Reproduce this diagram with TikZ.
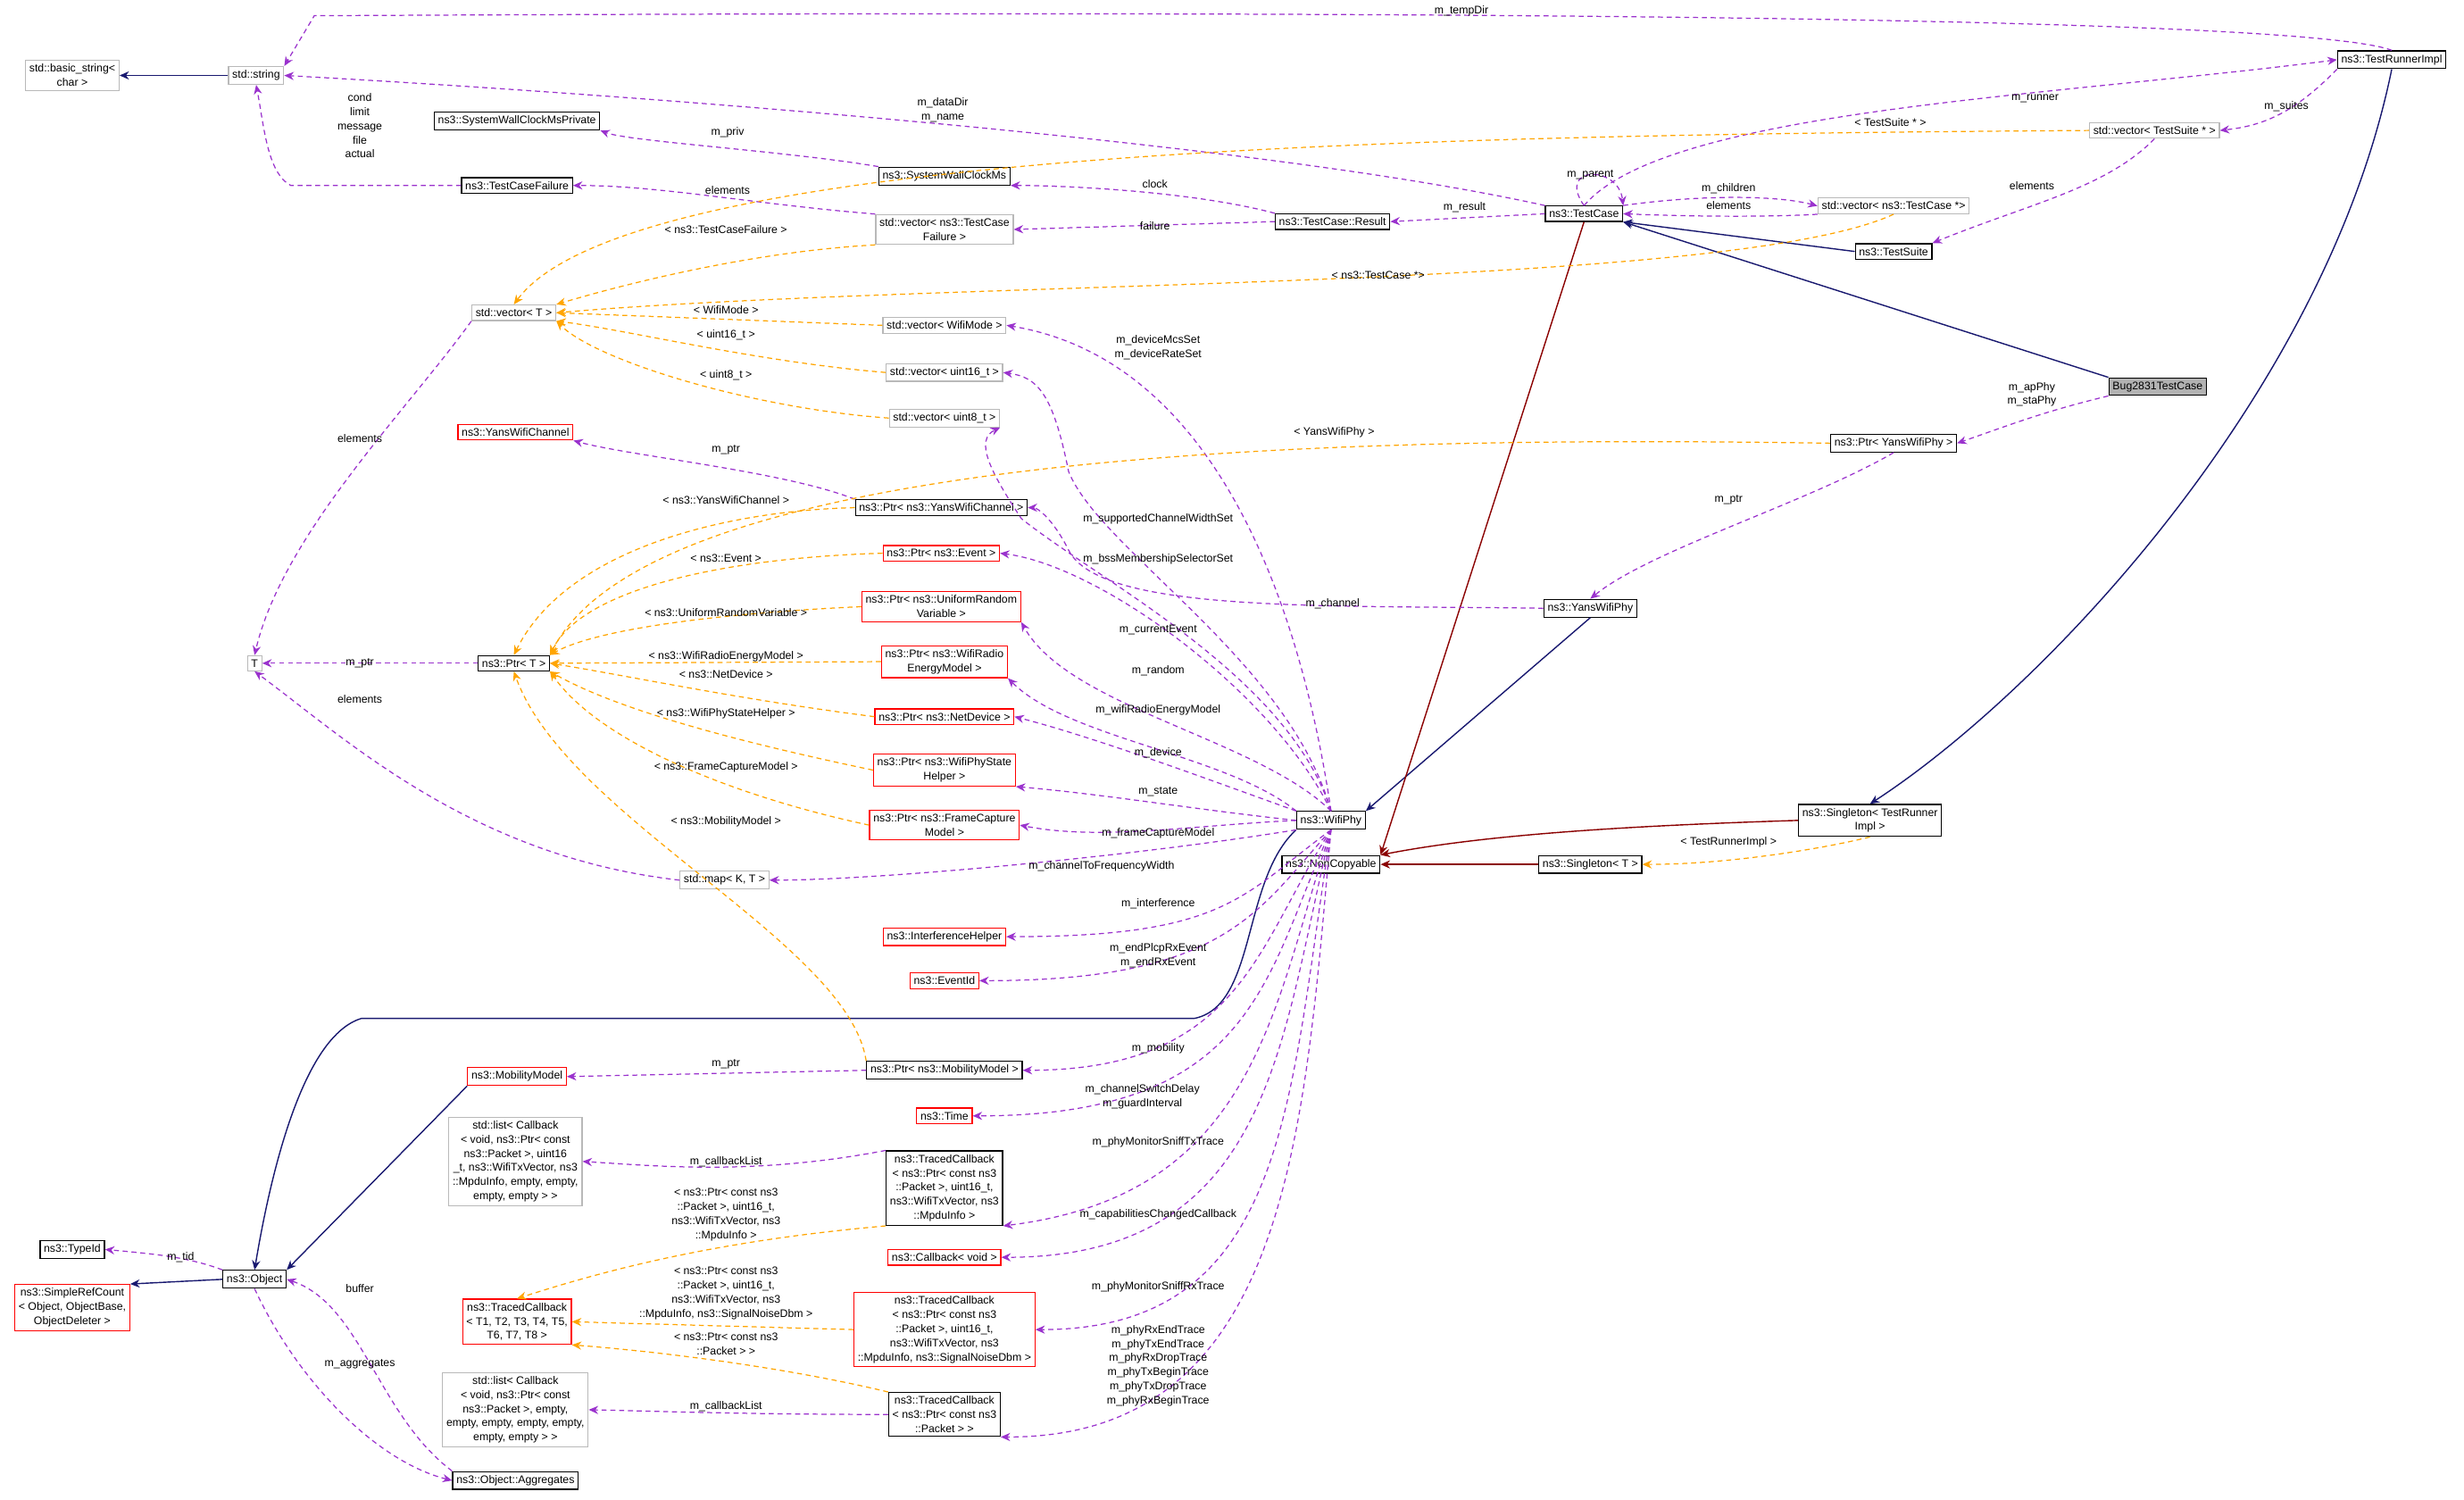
\documentclass[tikz,border=0pt]{standalone}
\usepackage{fontspec}
\setmainfont{Liberation Sans}
\usetikzlibrary{arrows.meta,positioning}
\definecolor{navy}{RGB}{25,25,112}
\definecolor{memc}{RGB}{154,50,205}
\definecolor{tmplc}{RGB}{255,165,0}
\definecolor{ncred}{RGB}{139,0,0}
\tikzset{
  box/.style={draw,line width=0.35pt,inner sep=1.2pt,align=center,font=\fontsize{3.5}{4.5}\selectfont},
  cls/.style={box,draw=black},
  redc/.style={box,draw=red},
  grayc/.style={box,draw=gray!55},
  lbl/.style={inner sep=0pt,align=center,font=\fontsize{3.5}{4.5}\selectfont},
  inh/.style={draw=navy,line width=0.4pt,-{Stealth[length=3pt,width=2.6pt]}},
  ncl/.style={draw=ncred,line width=0.4pt,-{Stealth[length=3pt,width=2.6pt]}},
  mem/.style={draw=memc,line width=0.35pt,dash pattern=on 1.6pt off 1.2pt,-{Stealth[length=3pt,width=2.6pt]}},
  tmpl/.style={draw=tmplc,line width=0.35pt,dash pattern=on 1.6pt off 1.2pt,-{Stealth[length=3pt,width=2.6pt]}},
}
\begin{document}
\begin{tikzpicture}[x=0.5pt,y=-0.5pt]
\useasboundingbox[fill=white] (0,0) rectangle (1568,954);

% Classes
\node[grayc] (bstring) at (46,48) {std::basic\_string\textless\\ char \textgreater};
\node[grayc] (string) at (163,48) {std::string};
\node[cls] (runnerimpl) at (1522,38) {ns3::TestRunnerImpl};
\node[cls] (swcpriv) at (329,77) {ns3::SystemWallClockMsPrivate};
\node[cls] (swc) at (601,112) {ns3::SystemWallClockMs};
\node[cls] (tcfail) at (329,118) {ns3::TestCaseFailure};
\node[grayc] (vtcfail) at (601,146) {std::vector\textless{} ns3::TestCase\\ Failure \textgreater};
\node[cls] (result) at (848,141) {ns3::TestCase::Result};
\node[cls] (testcase) at (1008,136) {ns3::TestCase};
\node[grayc] (vtcase) at (1205,131) {std::vector\textless{} ns3::TestCase *\textgreater};
\node[grayc] (vtsuite) at (1371,83) {std::vector\textless{} TestSuite * \textgreater};
\node[cls] (tsuite) at (1205,160) {ns3::TestSuite};
\node[cls,fill=gray!60] (bug) at (1373,246) {Bug2831TestCase};
\node[grayc] (vT) at (327,199) {std::vector\textless{} T \textgreater};
\node[grayc] (vwmode) at (601,207) {std::vector\textless{} WifiMode \textgreater};
\node[grayc] (vu16) at (601,237) {std::vector\textless{} uint16\_t \textgreater};
\node[grayc] (vu8) at (601,266) {std::vector\textless{} uint8\_t \textgreater};
\node[redc] (ywchan) at (328,275) {ns3::YansWifiChannel};
\node[cls] (pywphy) at (1205,282) {ns3::Ptr\textless{} YansWifiPhy \textgreater};
\node[cls] (pywchan) at (599,323) {ns3::Ptr\textless{} ns3::YansWifiChannel \textgreater};
\node[redc] (pevent) at (599,352) {ns3::Ptr\textless{} ns3::Event \textgreater};
\node[redc] (purv) at (599,386) {ns3::Ptr\textless{} ns3::UniformRandom\\ Variable \textgreater};
\node[cls] (ywphy) at (1012,387) {ns3::YansWifiPhy};
\node[grayc] (T) at (162,422) {T};
\node[cls] (pT) at (327,422) {ns3::Ptr\textless{} T \textgreater};
\node[redc] (pwrem) at (601,421) {ns3::Ptr\textless{} ns3::WifiRadio\\ EnergyModel \textgreater};
\node[redc] (pnetdev) at (601,456) {ns3::Ptr\textless{} ns3::NetDevice \textgreater};
\node[redc] (pwpsh) at (601,490) {ns3::Ptr\textless{} ns3::WifiPhyState\\ Helper \textgreater};
\node[redc] (pfcm) at (601,525) {ns3::Ptr\textless{} ns3::FrameCapture\\ Model \textgreater};
\node[cls] (wifiphy) at (847,522) {ns3::WifiPhy};
\node[cls] (sgltri) at (1190,522) {ns3::Singleton\textless{} TestRunner\\ Impl \textgreater};
\node[cls] (noncopy) at (847,550) {ns3::NonCopyable};
\node[cls] (sglT) at (1012,550) {ns3::Singleton\textless{} T \textgreater};
\node[grayc] (mapKT) at (461,560) {std::map\textless{} K, T \textgreater};
\node[redc] (ihelper) at (601,596) {ns3::InterferenceHelper};
\node[redc] (eventid) at (601,624) {ns3::EventId};
\node[redc] (mobmodel) at (329,685) {ns3::MobilityModel};
\node[cls] (pmobmodel) at (601,681) {ns3::Ptr\textless{} ns3::MobilityModel \textgreater};
\node[redc] (time) at (601,710) {ns3::Time};
\node[grayc] (cblistA) at (328,739) {std::list\textless{} Callback\\ \textless{} void, ns3::Ptr\textless{} const\\ ns3::Packet \textgreater, uint16\\ \_t, ns3::WifiTxVector, ns3\\ ::MpduInfo, empty, empty,\\ empty, empty \textgreater{} \textgreater};
\node[cls] (tcbA) at (601,756) {ns3::TracedCallback\\ \textless{} ns3::Ptr\textless{} const ns3\\ ::Packet \textgreater, uint16\_t,\\ ns3::WifiTxVector, ns3\\ ::MpduInfo \textgreater};
\node[cls] (typeid) at (46,795) {ns3::TypeId};
\node[cls] (object) at (162,814) {ns3::Object};
\node[redc] (srefcnt) at (46,832) {ns3::SimpleRefCount\\ \textless{} Object, ObjectBase,\\ ObjectDeleter \textgreater};
\node[redc] (cbvoid) at (601,800) {ns3::Callback\textless{} void \textgreater};
\node[redc] (tcbT) at (329,841) {ns3::TracedCallback\\ \textless{} T1, T2, T3, T4, T5,\\ T6, T7, T8 \textgreater};
\node[redc] (tcbB) at (601,846) {ns3::TracedCallback\\ \textless{} ns3::Ptr\textless{} const ns3\\ ::Packet \textgreater, uint16\_t,\\ ns3::WifiTxVector, ns3\\ ::MpduInfo, ns3::SignalNoiseDbm \textgreater};
\node[grayc] (cblistC) at (328,897) {std::list\textless{} Callback\\ \textless{} void, ns3::Ptr\textless{} const\\ ns3::Packet \textgreater, empty,\\ empty, empty, empty, empty,\\ empty, empty \textgreater{} \textgreater};
\node[cls] (tcbC) at (601,900) {ns3::TracedCallback\\ \textless{} ns3::Ptr\textless{} const ns3\\ ::Packet \textgreater{} \textgreater};
\node[cls] (aggr) at (328,942) {ns3::Object::Aggregates};

% Inheritance
\draw[inh] (string) -- (bstring);
\draw[inh] (tsuite.west) -- (testcase.south east);
\draw[inh] (bug.north west) -- (testcase.south east);
\draw[inh] (ywphy.south) -- (wifiphy.north east);
\draw[inh] (runnerimpl.south) .. controls (1480,250) and (1300,440) .. (sgltri.north);
\draw[inh] (wifiphy.south west) .. controls (790,560) and (800,640) .. (760,648) -- (230,648) .. controls (190,660) and (170,760) .. (object.north);
\draw[inh] (mobmodel.south west) -- (object.north east);
\draw[inh] (object.west) -- (srefcnt.north east);
\draw[ncl] (testcase.south) -- (noncopy.north east);
\draw[ncl] (sgltri.west) .. controls (1050,525) and (950,530) .. (noncopy.north east);
\draw[ncl] (sglT.west) -- (noncopy.east);

% Members
\draw[mem] (runnerimpl.north) .. controls (1450,5) and (600,8) .. (200,10) -- (string.north east);
\draw[mem] (testcase.north west) .. controls (800,90) and (400,60) .. (string.east);
\draw[mem] (tcfail.west) -- (185,118) .. controls (170,110) and (168,80) .. (string.south);
\draw[mem] (swc.north west) .. controls (500,96) and (400,90) .. (swcpriv.south east);
\draw[mem] (vtcfail.north west) .. controls (480,130) and (420,118) .. (tcfail.east);
\draw[mem] (result.north west) .. controls (760,122) and (680,118) .. (swc.south east);
\draw[mem] (result.west) -- (vtcfail.east);
\draw[mem] (testcase.west) -- (result.east);
\draw[mem] (testcase.north) .. controls (990,105) and (1030,105) .. (testcase.north east);
\draw[mem] (testcase.north east) .. controls (1080,124) and (1130,124) .. (vtcase.west);
\draw[mem] (vtcase.south west) .. controls (1130,138) and (1080,138) .. (testcase.east);
\draw[mem] (testcase.north) .. controls (1060,70) and (1300,62) .. (runnerimpl.west);
\draw[mem] (runnerimpl.south west) .. controls (1460,72) and (1440,80) .. (vtsuite.east);
\draw[mem] (vtsuite.south) .. controls (1340,120) and (1290,130) .. (tsuite.north east);
\draw[mem] (bug.south west) .. controls (1300,262) and (1280,270) .. (pywphy.east);
\draw[mem] (pywphy.south) .. controls (1150,320) and (1050,350) .. (ywphy.north);
\draw[mem] (vT.south west) .. controls (260,260) and (180,340) .. (T.north);
\draw[mem] (pT.west) -- (T.east);
\draw[mem] (mapKT.west) .. controls (300,545) and (220,470) .. (T.south);
\draw[mem] (pywchan.north west) .. controls (500,300) and (400,290) .. (ywchan.south east);
\draw[mem] (ywphy.west) .. controls (840,385) and (700,390) .. (680,350) .. controls (670,330) and (660,323) .. (pywchan.east);
\draw[mem] (wifiphy.north) .. controls (830,400) and (780,230) .. (vwmode.east);
\draw[mem] (wifiphy.north) .. controls (820,420) and (700,350) .. (680,300) .. controls (670,250) and (660,240) .. (vu16.east);
\draw[mem] (wifiphy.north) .. controls (820,430) and (700,370) .. (650,330) .. controls (630,300) and (620,280) .. (vu8.south east);
\draw[mem] (wifiphy.north) .. controls (810,440) and (700,360) .. (pevent.east);
\draw[mem] (wifiphy.north) .. controls (800,470) and (680,450) .. (purv.south east);
\draw[mem] (wifiphy.north west) .. controls (780,480) and (680,470) .. (pwrem.south east);
\draw[mem] (wifiphy.north west) .. controls (780,500) and (700,470) .. (pnetdev.east);
\draw[mem] (wifiphy.west) .. controls (760,515) and (700,505) .. (pwpsh.south east);
\draw[mem] (wifiphy.west) .. controls (760,525) and (700,535) .. (pfcm.east);
\draw[mem] (wifiphy.south west) .. controls (720,545) and (560,560) .. (mapKT.east);
\draw[mem] (wifiphy.south) .. controls (790,570) and (780,596) .. (ihelper.east);
\draw[mem] (wifiphy.south) .. controls (800,580) and (780,624) .. (eventid.east);
\draw[mem] (wifiphy.south) .. controls (800,600) and (790,681) .. (pmobmodel.east);
\draw[mem] (wifiphy.south) .. controls (805,620) and (800,710) .. (time.east);
\draw[mem] (wifiphy.south) .. controls (810,640) and (800,760) .. (tcbA.south east);
\draw[mem] (wifiphy.south) .. controls (815,660) and (810,800) .. (cbvoid.east);
\draw[mem] (wifiphy.south) .. controls (820,700) and (820,846) .. (tcbB.east);
\draw[mem] (wifiphy.south) .. controls (830,720) and (820,915) .. (tcbC.south east);
\draw[mem] (pmobmodel.west) -- (mobmodel.east);
\draw[mem] (tcbA.north west) .. controls (480,748) and (420,742) .. (cblistA.east);
\draw[mem] (tcbC.west) .. controls (480,900) and (420,898) .. (cblistC.east);
\draw[mem] (object.north west) .. controls (120,800) and (100,798) .. (typeid.east);
\draw[mem] (object.south) .. controls (190,880) and (240,930) .. (aggr.west);
\draw[mem] (aggr.north west) .. controls (240,900) and (230,830) .. (object.east);

% Templates
\draw[tmpl] (vtsuite.west) .. controls (900,86) and (400,95) .. (vT.north);
\draw[tmpl] (vtcfail.south west) .. controls (480,160) and (400,180) .. (vT.north east);
\draw[tmpl] (vtcase.south) .. controls (1100,185) and (600,178) .. (vT.east);
\draw[tmpl] (vwmode.west) -- (vT.east);
\draw[tmpl] (vu16.west) .. controls (480,230) and (400,210) .. (vT.south east);
\draw[tmpl] (vu8.west) .. controls (480,260) and (380,230) .. (vT.south east);
\draw[tmpl] (pywphy.west) .. controls (900,278) and (420,280) .. (pT.north east);
\draw[tmpl] (pywchan.west) .. controls (460,325) and (360,350) .. (pT.north);
\draw[tmpl] (pevent.west) .. controls (460,355) and (370,375) .. (pT.north east);
\draw[tmpl] (purv.west) .. controls (460,390) and (380,400) .. (pT.north east);
\draw[tmpl] (pwrem.west) -- (pT.east);
\draw[tmpl] (pnetdev.west) .. controls (470,445) and (400,430) .. (pT.east);
\draw[tmpl] (pwpsh.west) .. controls (460,470) and (390,450) .. (pT.south east);
\draw[tmpl] (pfcm.west) .. controls (460,505) and (380,470) .. (pT.south east);
\draw[tmpl] (pmobmodel.north west) .. controls (540,600) and (360,520) .. (pT.south);
\draw[tmpl] (sgltri.south) .. controls (1160,540) and (1100,550) .. (sglT.east);
\draw[tmpl] (tcbA.south west) .. controls (450,790) and (380,810) .. (tcbT.north);
\draw[tmpl] (tcbB.west) -- (tcbT.east);
\draw[tmpl] (tcbC.north west) .. controls (500,870) and (420,860) .. (tcbT.south east);

% Labels
\node[lbl] (l1) at (930,7) {m\_tempDir};
\node[lbl] (l2) at (600,70) {m\_dataDir\\m\_name};
\node[lbl] (l3) at (229,80) {cond\\limit\\message\\file\\actual};
\node[lbl] (l4) at (463,84) {m\_priv};
\node[lbl] (l5) at (463,121) {elements};
\node[lbl] (l6) at (735,117) {clock};
\node[lbl] (l7) at (735,144) {failure};
\node[lbl] (l8) at (932,132) {m\_result};
\node[lbl] (l9) at (1012,111) {m\_parent};
\node[lbl] (l10) at (1100,120) {m\_children};
\node[lbl] (l11) at (1100,131) {elements};
\node[lbl] (l12) at (1295,63) {m\_runner};
\node[lbl] (l13) at (1455,68) {m\_suites};
\node[lbl] (l14) at (1293,118) {elements};
\node[lbl] (l15) at (1203,78) {\textless{} TestSuite * \textgreater};
\node[lbl] (l16) at (462,146) {\textless{} ns3::TestCaseFailure \textgreater};
\node[lbl] (l17) at (877,175) {\textless{} ns3::TestCase *\textgreater};
\node[lbl] (l18) at (462,197) {\textless{} WifiMode \textgreater};
\node[lbl] (l19) at (462,213) {\textless{} uint16\_t \textgreater};
\node[lbl] (l20) at (462,239) {\textless{} uint8\_t \textgreater};
\node[lbl] (l21) at (1293,251) {m\_apPhy\\m\_staPhy};
\node[lbl] (l22) at (849,275) {\textless{} YansWifiPhy \textgreater};
\node[lbl] (l23) at (1100,318) {m\_ptr};
\node[lbl] (l24) at (462,286) {m\_ptr};
\node[lbl] (l25) at (462,318) {\textless{} ns3::YansWifiChannel \textgreater};
\node[lbl] (l26) at (462,355) {\textless{} ns3::Event \textgreater};
\node[lbl] (l27) at (462,390) {\textless{} ns3::UniformRandomVariable \textgreater};
\node[lbl] (l28) at (462,418) {\textless{} ns3::WifiRadioEnergyModel \textgreater};
\node[lbl] (l29) at (462,429) {\textless{} ns3::NetDevice \textgreater};
\node[lbl] (l30) at (462,454) {\textless{} ns3::WifiPhyStateHelper \textgreater};
\node[lbl] (l31) at (462,488) {\textless{} ns3::FrameCaptureModel \textgreater};
\node[lbl] (l32) at (462,523) {\textless{} ns3::MobilityModel \textgreater};
\node[lbl] (l33) at (229,279) {elements};
\node[lbl] (l34) at (229,422) {m\_ptr};
\node[lbl] (l35) at (229,445) {elements};
\node[lbl] (l36) at (1100,536) {\textless{} TestRunnerImpl \textgreater};
\node[lbl] (l37) at (737,221) {m\_deviceMcsSet\\m\_deviceRateSet};
\node[lbl] (l38) at (737,330) {m\_supportedChannelWidthSet};
\node[lbl] (l39) at (737,356) {m\_bssMembershipSelectorSet};
\node[lbl] (l40) at (848,384) {m\_channel};
\node[lbl] (l41) at (737,401) {m\_currentEvent};
\node[lbl] (l42) at (737,427) {m\_random};
\node[lbl] (l43) at (737,452) {m\_wifiRadioEnergyModel};
\node[lbl] (l44) at (737,479) {m\_device};
\node[lbl] (l45) at (737,504) {m\_state};
\node[lbl] (l46) at (737,530) {m\_frameCaptureModel};
\node[lbl] (l47) at (701,551) {m\_channelToFrequencyWidth};
\node[lbl] (l48) at (737,575) {m\_interference};
\node[lbl] (l49) at (737,608) {m\_endPlcpRxEvent\\m\_endRxEvent};
\node[lbl] (l50) at (737,667) {m\_mobility};
\node[lbl] (l51) at (727,698) {m\_channelSwitchDelay\\m\_guardInterval};
\node[lbl] (l52) at (737,727) {m\_phyMonitorSniffTxTrace};
\node[lbl] (l53) at (737,773) {m\_capabilitiesChangedCallback};
\node[lbl] (l54) at (737,819) {m\_phyMonitorSniffRxTrace};
\node[lbl] (l55) at (737,869) {m\_phyRxEndTrace\\m\_phyTxEndTrace\\m\_phyRxDropTrace\\m\_phyTxBeginTrace\\m\_phyTxDropTrace\\m\_phyRxBeginTrace};
\node[lbl] (l56) at (462,677) {m\_ptr};
\node[lbl] (l57) at (462,739) {m\_callbackList};
\node[lbl] (l58) at (462,773) {\textless{} ns3::Ptr\textless{} const ns3\\::Packet \textgreater, uint16\_t,\\ns3::WifiTxVector, ns3\\::MpduInfo \textgreater};
\node[lbl] (l59) at (115,800) {m\_tid};
\node[lbl] (l60) at (229,820) {buffer};
\node[lbl] (l61) at (229,868) {m\_aggregates};
\node[lbl] (l62) at (462,823) {\textless{} ns3::Ptr\textless{} const ns3\\::Packet \textgreater, uint16\_t,\\ns3::WifiTxVector, ns3\\::MpduInfo, ns3::SignalNoiseDbm \textgreater};
\node[lbl] (l63) at (462,855) {\textless{} ns3::Ptr\textless{} const ns3\\::Packet \textgreater{} \textgreater};
\node[lbl] (l64) at (462,895) {m\_callbackList};
\end{tikzpicture}
\end{document}
